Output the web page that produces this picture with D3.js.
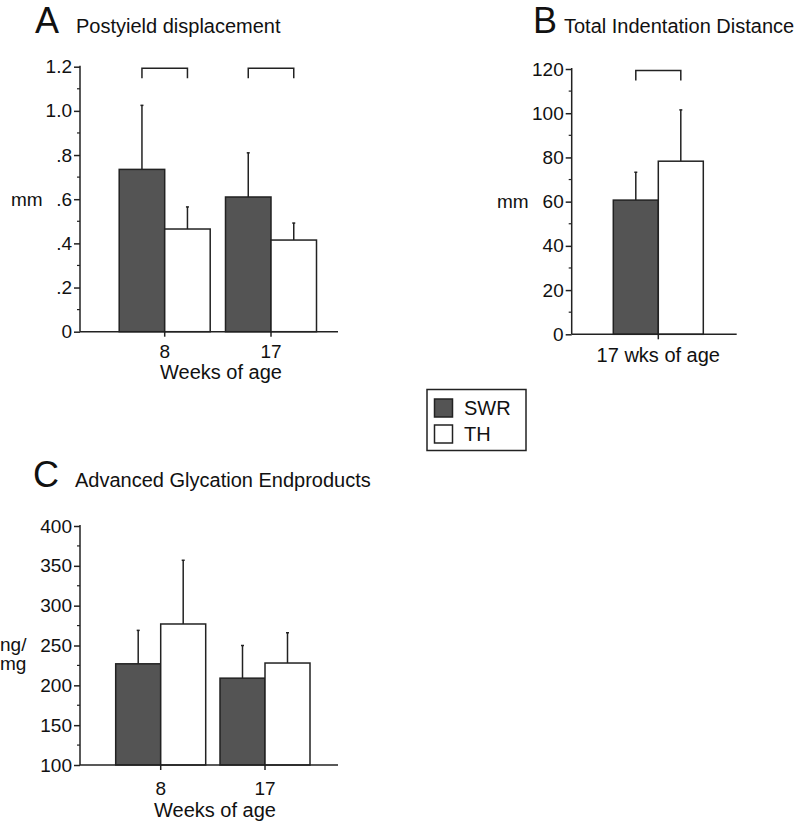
<!DOCTYPE html>
<html>
<head>
<meta charset="utf-8">
<script src="https://cdn.jsdelivr.net/npm/d3@7"></script>
<style>
  body { margin: 0; background: #fff; }
  svg { display: block; }
  text { font-family: "Liberation Sans", Arial, Helvetica, sans-serif; fill: #111; }
</style>
</head>
<body>
<svg id="chart" width="800" height="822"></svg>
<script>
// ---- Data ----
const groups = ["SWR", "TH"];
const groupColors = ["#545454", "#ffffff"];

// Panel A: Postyield displacement (mm)
const weeksA = ["8", "17"];
const meanA_SWR = [0.735, 0.61];
const meanA_TH = [0.465, 0.415];
const errA_SWR = [1.025, 0.81];
const errA_TH = [0.565, 0.492];
const ticksA = [0, 0.2, 0.4, 0.6, 0.8, 1.0, 1.2];
const tickLabelsA = ["0", ".2", ".4", ".6", ".8", "1.0", "1.2"];

// Panel B: Total Indentation Distance (mm)
const weeksB = ["17 wks of age"];
const meanB_SWR = [60.7];
const meanB_TH = [78.3];
const errB_SWR = [73.3];
const errB_TH = [101.5];
const ticksB = [0, 20, 40, 60, 80, 100, 120];

// Panel C: Advanced Glycation Endproducts (ng/mg)
const weeksC = ["8", "17"];
const meanC_SWR = [227, 209];
const meanC_TH = [277, 228];
const errC_SWR = [269, 250];
const errC_TH = [357, 266];
const ticksC = [100, 150, 200, 250, 300, 350, 400];

const svg = d3.select("#chart");

function panel(o) {
  const g = svg.append("g");
  const y = d3.scaleLinear().domain(o.yDomain).range([o.yBottom, o.yTop]);
  const x = d3.scalePoint().domain(o.cats).range(o.centerRange);
  const sub = d3.scaleBand().domain(groups).range([-o.barW, o.barW]).padding(0);

  o.cats.forEach((c, i) => {
    groups.forEach((s, j) => {
      const v = o.means[j][i];
      const e = o.errs[j][i];
      const bx = x(c) + sub(s);
      const cx = bx + sub.bandwidth() / 2;
      g.append("line").attr("x1", cx).attr("x2", cx)
        .attr("y1", y(v)).attr("y2", y(e))
        .attr("stroke", "#222").attr("stroke-width", 1.5);
      g.append("line").attr("x1", cx - 1.5).attr("x2", cx + 1.5)
        .attr("y1", y(e)).attr("y2", y(e))
        .attr("stroke", "#222").attr("stroke-width", 1.5);
      g.append("rect")
        .attr("x", bx).attr("y", y(v))
        .attr("width", sub.bandwidth()).attr("height", y(o.yDomain[0]) - y(v))
        .attr("fill", groupColors[j]).attr("stroke", "#222").attr("stroke-width", 1.5);
    });
  });

  const yAxis = d3.axisLeft(y).tickValues(o.ticks).tickSize(6).tickPadding(2)
    .tickFormat((d, i) => o.tickLabels ? o.tickLabels[i] : d);
  const ya = g.append("g").attr("transform", `translate(${o.xAxisStart},0)`).call(yAxis);
  ya.select(".domain").remove();
  ya.selectAll(".tick line").attr("stroke", "#222").attr("stroke-width", 1.5);
  ya.selectAll(".tick text").attr("font-size", 19).style("font-family", '"Liberation Sans", Arial, sans-serif').attr("fill", "#111");
  const minor = [];
  for (let k = 0; k < o.ticks.length - 1; k++) minor.push((o.ticks[k] + o.ticks[k + 1]) / 2);
  g.selectAll(null).data(minor).enter().append("line")
    .attr("x1", o.xAxisStart - 3).attr("x2", o.xAxisStart)
    .attr("y1", d => y(d)).attr("y2", d => y(d))
    .attr("stroke", "#222").attr("stroke-width", 1.2);
  g.append("line").attr("x1", o.xAxisStart).attr("x2", o.xAxisStart)
    .attr("y1", y(o.yDomain[1]) - 1).attr("y2", y(o.yDomain[0]))
    .attr("stroke", "#222").attr("stroke-width", 1.5);

  g.append("line").attr("x1", o.xAxisStart).attr("x2", o.xAxisEnd)
    .attr("y1", y(o.yDomain[0])).attr("y2", y(o.yDomain[0]))
    .attr("stroke", "#222").attr("stroke-width", 1.5);
  o.cats.forEach(c => {
    g.append("line").attr("x1", x(c)).attr("x2", x(c))
      .attr("y1", y(o.yDomain[0])).attr("y2", y(o.yDomain[0]) + 5)
      .attr("stroke", "#222").attr("stroke-width", 1.5);
    g.append("text").attr("x", x(c)).attr("y", y(o.yDomain[0]) + o.catDy)
      .attr("text-anchor", "middle").attr("font-size", o.catSize).text(c);
  });
  if (o.xTitle) {
    g.append("text").attr("x", o.xTitleX).attr("y", y(o.yDomain[0]) + o.titleDy)
      .attr("text-anchor", "middle").attr("font-size", 20).text(o.xTitle);
  }

  (o.brackets || []).forEach(c => {
    const x1 = x(c) + sub("SWR") + sub.bandwidth() / 2;
    const x2 = x(c) + sub("TH") + sub.bandwidth() / 2;
    const yt = y(o.yDomain[1]) + 1.5, yb = yt + 10;
    g.append("path")
      .attr("d", `M${x1},${yb}V${yt}H${x2}V${yb}`)
      .attr("fill", "none").attr("stroke", "#222").attr("stroke-width", 1.5);
  });

  g.append("text").attr("x", o.letterX).attr("y", o.titleY)
    .attr("font-size", 36).attr("textLength", o.letterW).text(o.letter);
  g.append("text").attr("x", o.titleX).attr("y", o.titleY)
    .attr("font-size", 20).text(o.title);

  o.yLabel.forEach((t, i) => {
    g.append("text").attr("x", o.yLabelX).attr("y", o.yLabelY + i * 19)
      .attr("font-size", 19).text(t);
  });
}

panel({
  yDomain: [0, 1.2], yTop: 66.7, yBottom: 331.7,
  cats: weeksA, centerRange: [164.7, 271], barW: 45.5,
  means: [meanA_SWR, meanA_TH], errs: [errA_SWR, errA_TH],
  ticks: ticksA, tickLabels: tickLabelsA,
  xAxisStart: 80, xAxisEnd: 338,
  xTitle: "Weeks of age", xTitleX: 221, catDy: 26.5, catSize: 19, titleDy: 47,
  brackets: weeksA,
  letter: "A", letterX: 35, letterW: 27, title: "Postyield displacement", titleX: 76, titleY: 33,
  yLabel: ["mm"], yLabelX: 11, yLabelY: 206
});

panel({
  yDomain: [0, 120], yTop: 69, yBottom: 334.3,
  cats: weeksB, centerRange: [658.3, 658.3], barW: 45,
  means: [meanB_SWR, meanB_TH], errs: [errB_SWR, errB_TH],
  ticks: ticksB,
  xAxisStart: 571.7, xAxisEnd: 736.7, catDy: 28, catSize: 20, titleDy: 46,
  xTitle: null,
  brackets: weeksB,
  letter: "B", letterX: 533, letterW: 27, title: "Total Indentation Distance", titleX: 564, titleY: 33,
  yLabel: ["mm"], yLabelX: 497, yLabelY: 208
});

panel({
  yDomain: [100, 400], yTop: 526, yBottom: 765,
  cats: weeksC, centerRange: [160.7, 265], barW: 45,
  means: [meanC_SWR, meanC_TH], errs: [errC_SWR, errC_TH],
  ticks: ticksC,
  xAxisStart: 80, xAxisEnd: 338,
  xTitle: "Weeks of age", xTitleX: 215, catDy: 30, catSize: 19, titleDy: 52,
  brackets: [],
  letter: "C", letterX: 33, letterW: 28, title: "Advanced Glycation Endproducts", titleX: 75, titleY: 487,
  yLabel: ["ng/", "mg"], yLabelX: 0, yLabelY: 651
});

const leg = svg.append("g");
leg.append("rect").attr("x", 427).attr("y", 389.5).attr("width", 99).attr("height", 61)
  .attr("fill", "#fff").attr("stroke", "#222").attr("stroke-width", 1.5);
groups.forEach((s, i) => {
  leg.append("rect").attr("x", 434.5).attr("y", 399 + i * 26).attr("width", 18).attr("height", 18)
    .attr("fill", groupColors[i]).attr("stroke", "#222").attr("stroke-width", 1.5);
  leg.append("text").attr("x", 464).attr("y", 415 + i * 26).attr("font-size", 20).text(s);
});
</script>
</body>
</html>
